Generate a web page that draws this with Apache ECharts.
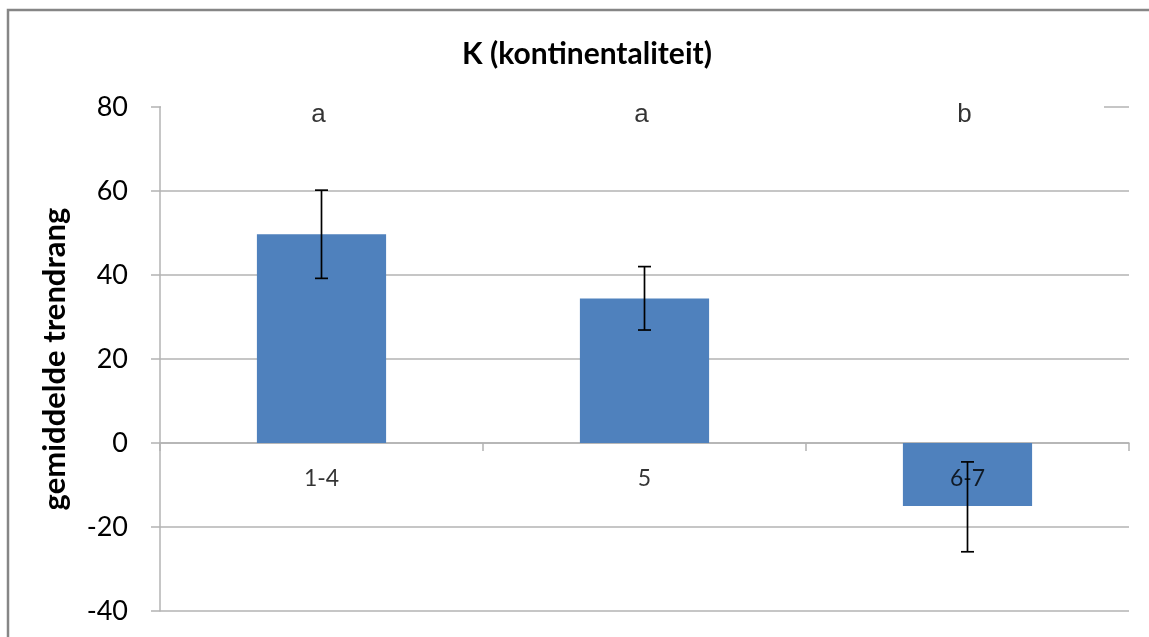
<!DOCTYPE html>
<html>
<head>
<meta charset="utf-8">
<script src="https://cdn.jsdelivr.net/npm/echarts@6/dist/echarts.min.js"></script>
<style>
  html, body { margin: 0; padding: 0; background: #fff; }
  #chart { width: 1149px; height: 637px; }
</style>
</head>
<body>
<div id="chart"></div>
<script>
// Continentality classes and their mean trend rank
const categories = ['1-4', '5', '6-7'];
const means = [49.7, 34.4, -15.0];
const errLow = [39.2, 26.9, -25.9];
const errHigh = [60.2, 42.0, -4.5];
// Significance group letters shown above each class
const groups = ['a', 'a', 'b'];
const groupLevel = 78.1;
const yTicks = { min: -40, max: 80, interval: 20 };

const chart = echarts.init(document.getElementById('chart'));
const gridColor = '#b3b3b3';
const font = 'Lato, "Open Sans", sans-serif';

chart.setOption({
  animation: false,
  backgroundColor: '#fff',
  title: {
    text: 'K (kontinentaliteit)',
    left: 582, top: 34, textAlign: 'center',
    textStyle: { fontFamily: font, fontWeight: 'bold', fontSize: 30, color: '#000' }
  },
  graphic: [
    { type: 'rect', z: 0, silent: true,
      shape: { x: 8, y: 10, width: 1160, height: 640 },
      style: { fill: 'none', stroke: '#868686', lineWidth: 2.5 } },
    { type: 'rect', z: 1, silent: true,
      shape: { x: 161, y: 94, width: 943, height: 34 },
      style: { fill: '#fff' } }
  ],
  grid: { left: 160, right: 20, top: 107, bottom: 26, containLabel: false, outerBoundsMode: 'none' },
  xAxis: {
    type: 'category',
    data: categories,
    axisLine: { onZero: true, lineStyle: { color: gridColor, width: 1.5 } },
    axisTick: { show: true, length: 8, lineStyle: { color: gridColor, width: 1.5 } },
    axisLabel: { show: false },
    splitLine: { show: false }
  },
  yAxis: {
    type: 'value',
    min: yTicks.min, max: yTicks.max, interval: yTicks.interval,
    name: 'gemiddelde trendrang',
    nameLocation: 'middle', nameGap: 90, nameRotate: 90,
    nameTextStyle: { fontFamily: font, fontWeight: 'bold', fontSize: 31, color: '#000' },
    axisLine: { show: true, lineStyle: { color: gridColor, width: 1.5 } },
    axisTick: { show: true, length: 9, lineStyle: { color: gridColor, width: 1.5 } },
    axisLabel: { margin: 32, fontFamily: font, fontSize: 27, color: '#000' },
    splitLine: { show: true, lineStyle: { color: gridColor, width: 1.5 } }
  },
  series: [
    {
      type: 'bar',
      data: means,
      barWidth: '40%',
      z: 2,
      itemStyle: { color: '#4f81bd' }
    },
    {
      type: 'custom',
      z: 3,
      data: categories.map((c, i) => [i, errLow[i], errHigh[i]]),
      renderItem: function (params, api) {
        const lo = api.coord([api.value(0), api.value(1)]);
        const hi = api.coord([api.value(0), api.value(2)]);
        const half = 6.5;
        const style = { stroke: '#000', lineWidth: 1.7 };
        return {
          type: 'group',
          children: [
            { type: 'line', shape: { x1: lo[0], y1: lo[1], x2: hi[0], y2: hi[1] }, style },
            { type: 'line', shape: { x1: lo[0] - half, y1: lo[1], x2: lo[0] + half, y2: lo[1] }, style },
            { type: 'line', shape: { x1: hi[0] - half, y1: hi[1], x2: hi[0] + half, y2: hi[1] }, style }
          ]
        };
      }
    },
    {
      // category names sit just under the zero line
      type: 'scatter',
      z: 5,
      symbolSize: 0,
      data: categories.map((c, i) => [i, 0]),
      label: {
        show: true,
        position: 'bottom',
        distance: 24,
        formatter: p => categories[p.dataIndex],
        fontFamily: font, fontSize: 23, color: '#000'
      }
    },
    {
      type: 'scatter',
      z: 4,
      symbolSize: 0,
      data: groups.map((g, i) => [i, groupLevel]),
      label: {
        show: true,
        position: 'inside',
        offset: [-3, 0],
        formatter: p => groups[p.dataIndex],
        fontFamily: '"Liberation Sans", Arial, sans-serif',
        fontSize: 26, color: '#000'
      }
    }
  ]
});
</script>
</body>
</html>
